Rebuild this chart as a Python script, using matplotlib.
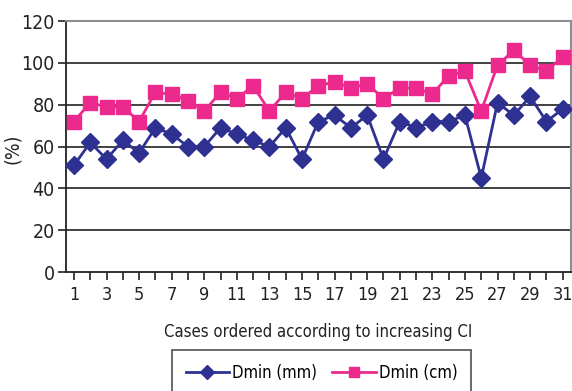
import numpy as np
import matplotlib.pyplot as plt
from matplotlib.font_manager import FontProperties

plt.rcParams['font.family'] = ['DejaVu Sans']
plt.rcParams['font.stretch'] = 'condensed'

cases = np.arange(1, 32)
dmin_mm = [51, 62, 54, 63, 57, 69, 66, 60, 60, 69, 66, 63, 60, 69, 54, 72, 75, 69, 75, 54,
           72, 69, 72, 72, 75, 45, 81, 75, 84, 72, 78]
dmin_cm = [72, 81, 79, 79, 72, 86, 85, 82, 77, 86, 83, 89, 77, 86, 83, 89, 91, 88, 90, 83,
           88, 88, 85, 94, 96, 77, 99, 106, 99, 96, 103]

blue = '#2E3192'
pink = '#EC2A8E'


def fp(size):
    return FontProperties(family='DejaVu Sans', stretch='condensed', size=size)


fig = plt.figure(figsize=(5.72, 3.91), dpi=100)
ax = fig.add_axes([0.115, 0.304, 0.883, 0.642])

# Gridlines
for v in range(20, 101, 20):
    ax.axhline(v, color='#333333', lw=1.3, zorder=0)

ax.plot(cases, dmin_mm, color=blue, marker='D', markersize=9, lw=2, label='Dmin (mm)', zorder=3)
ax.plot(cases, dmin_cm, color=pink, marker='s', markersize=9.5, lw=2, label='Dmin (cm)', zorder=3)

ax.set_xlim(0.5, 31.5)
ax.set_ylim(0, 120)
ax.set_yticks(range(0, 121, 20))
ax.set_yticklabels([str(v) for v in range(0, 121, 20)], fontproperties=fp(14))
ax.set_xticks(cases)
ax.set_xticklabels([str(c) if c % 2 == 1 else '' for c in cases], fontproperties=fp(13))
ax.tick_params(axis='both', direction='out', length=6, width=1.2, colors='#222222')
ax.tick_params(axis='x', pad=4)
ax.tick_params(axis='y', pad=2)

for s in ['top', 'right']:
    ax.spines[s].set_color('#8a8e93')
    ax.spines[s].set_linewidth(1.5)
for s in ['left', 'bottom']:
    ax.spines[s].set_color('#222222')
    ax.spines[s].set_linewidth(1.3)

ax.set_ylabel('(%)', fontproperties=fp(14), color='#222222')
ax.yaxis.set_label_coords(-0.087, 0.49)
ax.set_xlabel('Cases ordered according to increasing CI', fontproperties=fp(12),
              color='#222222', labelpad=14)

leg = ax.legend(loc='upper center', bbox_to_anchor=(0.507, -0.311), ncol=2, prop=fp(12),
                frameon=True, fancybox=False, edgecolor='#222222', handlelength=2.6,
                borderpad=0.8, borderaxespad=0, columnspacing=0.9, handletextpad=0.2,
                markerscale=0.75)
leg.get_frame().set_linewidth(1.2)

fig.savefig('out.png', dpi=100)
